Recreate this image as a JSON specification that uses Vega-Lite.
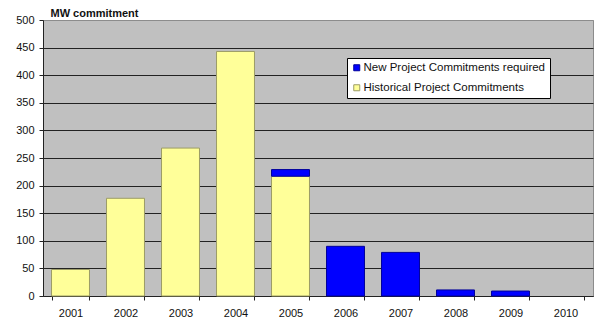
{
  "$schema": "https://vega.github.io/schema/vega-lite/v6.json",
  "width": 550,
  "height": 276,
  "autosize": {"type": "none"},
  "padding": {"left": 43, "top": 20, "right": 15, "bottom": 30},
  "background": "white",
  "config": {
    "font": "Liberation Sans",
    "view": {"fill": "#C0C0C0", "stroke": "#8c8c8c", "strokeWidth": 1}
  },
  "data": {
    "values": [
      {"year": "2001", "series": "Historical Project Commitments", "mw": 48},
      {"year": "2002", "series": "Historical Project Commitments", "mw": 177},
      {"year": "2003", "series": "Historical Project Commitments", "mw": 268},
      {"year": "2004", "series": "Historical Project Commitments", "mw": 443},
      {"year": "2005", "series": "Historical Project Commitments", "mw": 217},
      {"year": "2005", "series": "New Project Commitments required", "mw": 12},
      {"year": "2006", "series": "New Project Commitments required", "mw": 90},
      {"year": "2007", "series": "New Project Commitments required", "mw": 79},
      {"year": "2008", "series": "New Project Commitments required", "mw": 11},
      {"year": "2009", "series": "New Project Commitments required", "mw": 9}
    ]
  },
  "mark": {"type": "bar", "strokeWidth": 1},
  "encoding": {
    "x": {
      "field": "year",
      "type": "ordinal",
      "scale": {
        "domain": ["2001", "2002", "2003", "2004", "2005", "2006", "2007", "2008", "2009", "2010"],
        "paddingInner": 0.31,
        "paddingOuter": 0.155
      },
      "axis": {
        "title": null,
        "labelAngle": 0,
        "labelFontSize": 11,
        "labelColor": "#111",
        "labelPadding": 7,
        "tickBand": "extent",
        "tickSize": 4,
        "tickColor": "#222",
        "domainColor": "#222",
        "grid": false
      }
    },
    "y": {
      "field": "mw",
      "type": "quantitative",
      "stack": "zero",
      "scale": {"domain": [0, 500], "nice": false},
      "axis": {
        "title": "MW commitment",
        "titleAngle": 0,
        "titleX": 7,
        "titleY": -4,
        "titleAlign": "left",
        "titleBaseline": "alphabetic",
        "titleFontSize": 11,
        "titleFontWeight": "bold",
        "titleColor": "#111",
        "values": [0, 50, 100, 150, 200, 250, 300, 350, 400, 450, 500],
        "labelFontSize": 11,
        "labelColor": "#111",
        "labelPadding": 5,
        "tickSize": 4,
        "tickColor": "#222",
        "domainColor": "#222",
        "grid": true,
        "gridColor": {"condition": {"test": "datum.value === 500", "value": "#8c8c8c"}, "value": "#222"},
        "gridWidth": 1
      }
    },
    "color": {
      "field": "series",
      "type": "nominal",
      "scale": {
        "domain": ["New Project Commitments required", "Historical Project Commitments"],
        "range": ["#0000FF", "#FFFF99"]
      },
      "legend": {
        "title": null,
        "orient": "none",
        "legendX": 304,
        "legendY": 38,
        "fillColor": "white",
        "strokeColor": "black",
        "padding": 4,
        "symbolType": "square",
        "symbolSize": 36,
        "symbolStrokeColor": "black",
        "symbolStrokeWidth": 1,
        "labelFontSize": 11.5,
        "labelLimit": 400,
        "labelColor": "#111",
        "labelOffset": 1,
        "rowPadding": 7
      }
    },
    "stroke": {
      "field": "series",
      "type": "nominal",
      "scale": {
        "domain": ["New Project Commitments required", "Historical Project Commitments"],
        "range": ["#00009a", "#9c9c66"]
      },
      "legend": null
    },
    "order": {"field": "series", "sort": "ascending"}
  }
}
